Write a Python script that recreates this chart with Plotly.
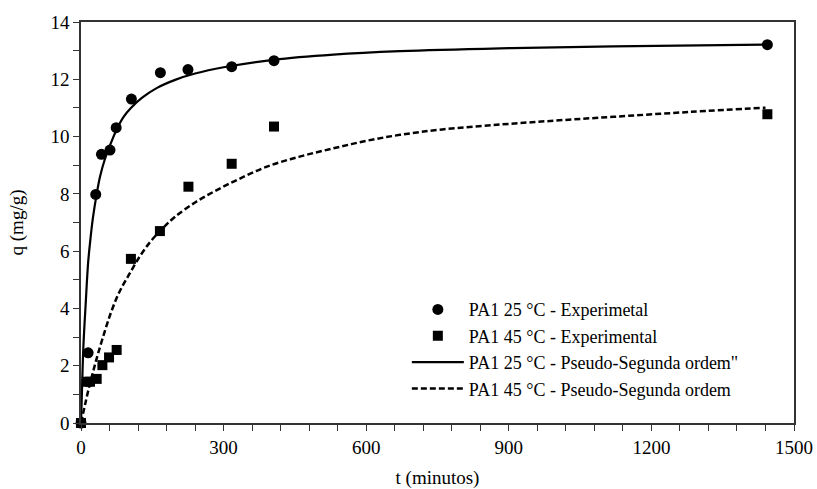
import plotly.graph_objects as go

t_exp_25 = [0, 15, 31, 43, 61, 74, 106, 167, 225, 317, 406, 1444]
q_exp_25 = [0, 2.45, 7.98, 9.38, 9.53, 10.31, 11.31, 12.23, 12.34, 12.44, 12.65, 13.21]

t_exp_45 = [0, 12, 19, 33, 45, 59, 75, 105, 166, 226, 317, 406, 1444]
q_exp_45 = [0, 1.44, 1.44, 1.54, 2.02, 2.29, 2.55, 5.73, 6.70, 8.25, 9.05, 10.35, 10.78]

# Pseudo-second-order model curves
t_fit_25 = [0, 2, 5, 10, 15, 20, 25, 33, 40, 50, 60, 75, 90, 105, 128, 160, 198,
            240, 300, 405, 531, 671, 882, 1120, 1440]
q_fit_25 = [0, 1.1, 2.66, 4.2, 5.6, 6.45, 7.15, 8.0, 8.6, 9.2, 9.65, 10.25, 10.7, 11.0, 11.35, 11.7, 11.98,
            12.2, 12.42, 12.68, 12.86, 12.98, 13.08, 13.15, 13.21]

t_fit_45 = [0, 10, 19, 28, 36, 50, 64, 80, 100, 125, 149, 175, 198, 240, 282, 330, 391,
            460, 531, 600, 671, 760, 882, 1000, 1120, 1280, 1440]
q_fit_45 = [0, 0.75, 1.39, 1.95, 2.43, 3.2, 3.9, 4.55, 5.15, 5.85, 6.39, 6.85, 7.2, 7.7, 8.1, 8.5, 8.95,
            9.3, 9.59, 9.85, 10.06, 10.25, 10.42, 10.56, 10.69, 10.86, 11.01]

names = [
    "PA1 25 °C - Experimetal",
    "PA1 45 °C - Experimental",
    "PA1 25 °C - Pseudo-Segunda ordem\"",
    "PA1 45 °C - Pseudo-Segunda ordem",
]

FONT = "Liberation Serif, Times New Roman, serif"

fig = go.Figure()
fig.add_trace(go.Scatter(x=t_fit_25, y=q_fit_25, mode="lines", name=names[2],
                         line=dict(color="black", width=2.2, shape="spline", smoothing=1.0),
                         legendrank=3))
fig.add_trace(go.Scatter(x=t_fit_45, y=q_fit_45, mode="lines", name=names[3],
                         line=dict(color="black", width=2.5, dash="6px,3px", shape="spline", smoothing=1.0),
                         legendrank=4))
fig.add_trace(go.Scatter(x=t_exp_25, y=q_exp_25, mode="markers", name=names[0],
                         marker=dict(symbol="circle", size=11, color="black"),
                         cliponaxis=False, legendrank=1))
fig.add_trace(go.Scatter(x=t_exp_45, y=q_exp_45, mode="markers", name=names[1],
                         marker=dict(symbol="square", size=10, color="black"),
                         cliponaxis=False, legendrank=2))

axis_common = dict(
    showline=True, linecolor="#333", linewidth=1.5, mirror=True,
    ticks="outside", ticklen=6, tickwidth=1, tickcolor="#333",
    showgrid=False, zeroline=False, automargin=False,
    tickfont=dict(family=FONT, size=19, color="black"),
)

fig.update_xaxes(range=[0, 1500], tick0=0, dtick=300,
                 minor=dict(dtick=60, ticks="outside", ticklen=6, tickcolor="#333", showgrid=False),
                 title=dict(text="t (minutos)", font=dict(family=FONT, size=19, color="black"), standoff=18),
                 **axis_common)
fig.update_yaxes(range=[0, 14], tick0=0, dtick=2,
                 minor=dict(dtick=1, ticks="outside", ticklen=6, tickcolor="#333", showgrid=False),
                 title=dict(text="q (mg/g)", font=dict(family=FONT, size=19, color="black"), standoff=22),
                 **axis_common)

fig.update_layout(
    width=817, height=489,
    margin=dict(l=81, r=23, t=22, b=66),
    paper_bgcolor="white", plot_bgcolor="white",
    font=dict(family=FONT, color="black"),
    legend=dict(x=0.457, y=0.184, xanchor="left", yanchor="middle", itemwidth=52,
                bgcolor="rgba(0,0,0,0)", font=dict(family=FONT, size=18, color="black"),
                tracegroupgap=0),
)

fig.write_html("out.html")
